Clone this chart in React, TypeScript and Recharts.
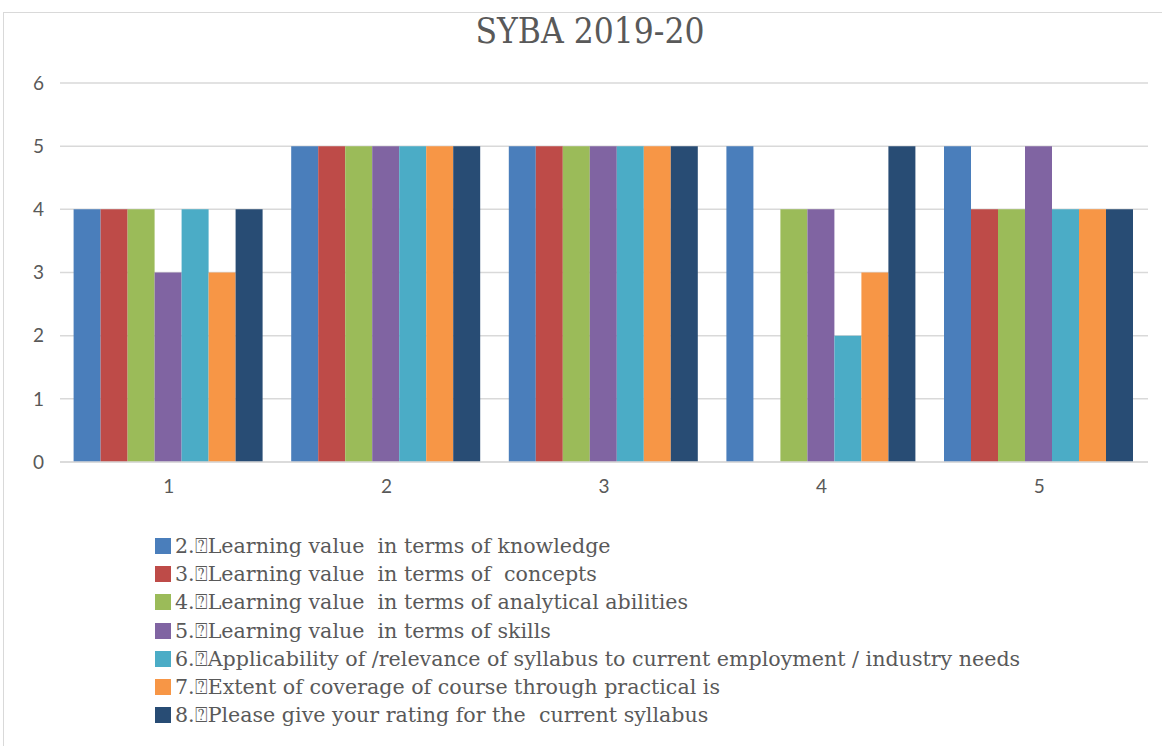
import { Bar, BarChart, CartesianGrid, XAxis, YAxis } from 'recharts';

const categories = ['1', '2', '3', '4', '5'];

const seriesNames = [
  '2.\u2370Learning value  in terms of knowledge',
  '3.\u2370Learning value  in terms of  concepts',
  '4.\u2370Learning value  in terms of analytical abilities',
  '5.\u2370Learning value  in terms of skills',
  '6.\u2370Applicability of /relevance of syllabus to current employment / industry needs',
  '7.\u2370Extent of coverage of course through practical is',
  '8.\u2370Please give your rating for the  current syllabus',
];

const knowledge = [4, 5, 5, 5, 5];
const concepts = [4, 5, 5, 0, 4];
const analytical = [4, 5, 5, 4, 4];
const skills = [3, 5, 5, 4, 5];
const applicability = [4, 5, 5, 2, 4];
const practical = [3, 5, 5, 3, 4];
const rating = [4, 5, 5, 5, 4];

const seriesValues = [knowledge, concepts, analytical, skills, applicability, practical, rating];
const colors = ['#4a7ebb', '#be4b48', '#9bbb59', '#8064a2', '#4bacc6', '#f79646', '#284c74'];

const data = categories.map((name, i) => {
  const row: Record<string, string | number> = { name };
  seriesValues.forEach((vals, s) => {
    row['s' + s] = vals[i];
  });
  return row;
});

const LegendList = () => (
  <div style={{ position: 'absolute', left: 155, top: 532, fontFamily: '"DejaVu Serif", serif' }}>
    {seriesNames.map((n, i) => (
      <div key={n} style={{ display: 'flex', alignItems: 'center', height: 28.2, fontSize: 20.6, color: '#595959', whiteSpace: 'pre' }}>
        <span style={{ width: 16, height: 16, background: colors[i], marginRight: 4, display: 'inline-block' }} />
        <span>{n}</span>
      </div>
    ))}
  </div>
);

export default function App() {
  return (
    <div style={{ position: 'absolute', left: 0, top: 0, width: 1162, height: 746, background: '#fff', overflow: 'hidden' }}>
      <div style={{ position: 'absolute', left: 3, top: 12, width: 1170, height: 760, border: '1px solid #d9d9d9' }} />
      <div
        style={{
          position: 'absolute',
          top: 11,
          left: 0,
          width: 1180,
          textAlign: 'center',
          fontFamily: '"DejaVu Serif Condensed", "DejaVu Serif", serif',
          fontSize: 35,
          color: '#595959',
        }}
      >
        SYBA 2019-20
      </div>
      <BarChart
        width={1162}
        height={746}
        data={data}
        margin={{ top: 83, right: 14, left: 20, bottom: 254 }}
        barCategoryGap="6.25%"
        barGap={0}
        style={{ position: 'absolute', left: 0, top: 0 }}
      >
        <CartesianGrid vertical={false} stroke="#d9d9d9" strokeWidth={1.5} />
        <XAxis
          dataKey="name"
          axisLine={{ stroke: '#d9d9d9', strokeWidth: 1.5 }}
          tickLine={false}
          tick={{ fill: '#595959', fontSize: 19, fontFamily: 'Lato, sans-serif' }}
          tickMargin={12}
          height={30}
        />
        <YAxis
          domain={[0, 6]}
          ticks={[0, 1, 2, 3, 4, 5, 6]}
          axisLine={false}
          tickLine={false}
          width={40}
          tickMargin={10}
          tick={{ fill: '#595959', fontSize: 19, fontFamily: 'Lato, sans-serif' }}
        />
        {seriesValues.map((_, s) => (
          <Bar key={s} dataKey={'s' + s} name={seriesNames[s]} fill={colors[s]} isAnimationActive={false} />
        ))}
      </BarChart>
      <LegendList />
    </div>
  );
}
